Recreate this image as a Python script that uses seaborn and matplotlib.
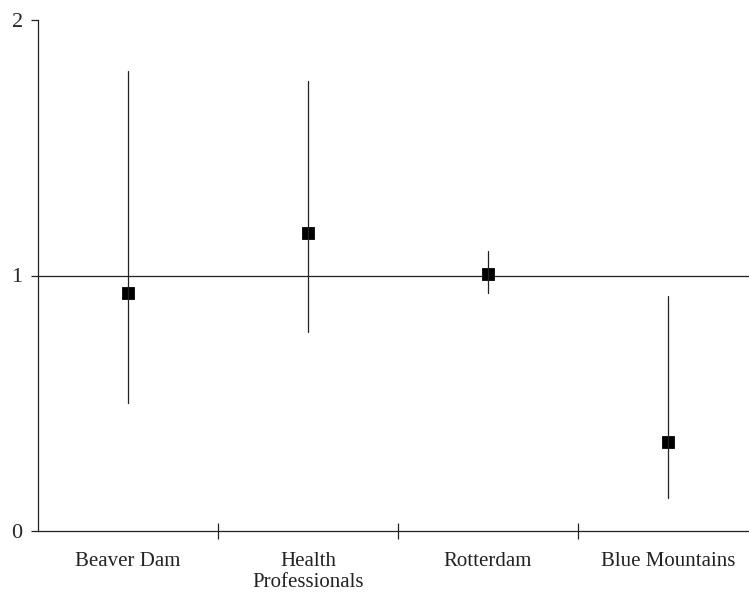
import numpy as np
import pandas as pd
import matplotlib
matplotlib.use('Agg')
import matplotlib.pyplot as plt
import seaborn as sns

# Estimates with lower / upper confidence limits per study
studies = ['Beaver Dam', 'Health\nProfessionals', 'Rotterdam', 'Blue Mountains']
estimate = [0.93, 1.165, 1.007, 0.35]
lower = [0.50, 0.78, 0.93, 0.13]
upper = [1.80, 1.76, 1.095, 0.92]

sns.set_theme(style='white')
plt.rcParams['font.family'] = ['Liberation Serif', 'DejaVu Serif']

# long table: median = estimate, min/max = limits
df = pd.DataFrame({
    'study': np.repeat(studies, 3),
    'value': np.ravel(np.column_stack([lower, estimate, upper])),
})

fig = plt.figure(figsize=(7.49, 5.93), dpi=100)
ax = fig.add_axes([38 / 749, 62 / 593, 720 / 749, 511 / 593])

line_col = '#222222'
ax.axhline(1, color=line_col, linewidth=0.9, zorder=1)

sns.pointplot(
    data=df, x='study', y='value',
    estimator='median',
    errorbar=lambda v: (v.min(), v.max()),
    order=studies,
    linestyle='none',
    marker='s',
    markersize=7.5,
    color='black',
    err_kws={'linewidth': 0.9, 'color': line_col},
    ax=ax,
)

ax.set_xlim(-0.5, 3.5)
ax.set_ylim(0, 2)
ax.set_xlabel('')
ax.set_ylabel('')

ax.set_yticks([0, 1, 2])
ax.set_yticklabels(['0', '1', '2'], fontsize=16)
ax.tick_params(axis='y', direction='out', length=5, width=0.9, color=line_col, pad=6, left=True)

ax.set_xticks([0.5, 1.5, 2.5])
ax.set_xticklabels([])
ax.set_xticks([0, 1, 2, 3], minor=True)
ax.set_xticklabels(studies, minor=True, fontsize=15, color='#222222', linespacing=1.15)
ax.tick_params(axis='x', which='major', direction='inout', length=12, width=0.9, color=line_col, bottom=True)
ax.tick_params(axis='x', which='minor', length=0, pad=15)

for side in ['top', 'right']:
    ax.spines[side].set_visible(False)
for side in ['left', 'bottom']:
    ax.spines[side].set_color(line_col)
    ax.spines[side].set_linewidth(0.9)

plt.savefig('out.png', dpi=100)
plt.close()
